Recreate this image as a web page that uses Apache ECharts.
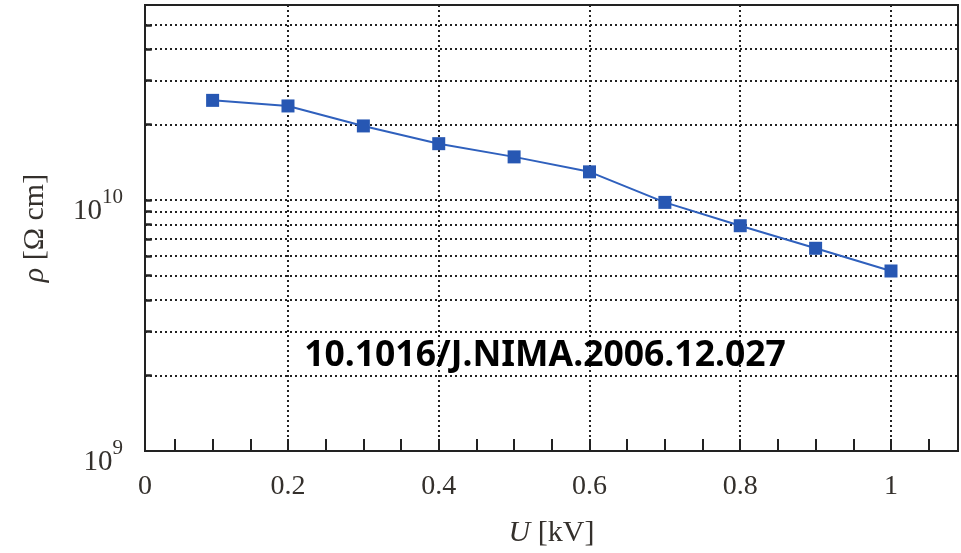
<!DOCTYPE html>
<html>
<head>
<meta charset="utf-8">
<script src="https://cdn.jsdelivr.net/npm/echarts@6/dist/echarts.min.js"></script>
<style>
html,body{margin:0;padding:0;background:#fff;}
#chart{width:961px;height:553px;}
</style>
</head>
<body>
<div id="chart"></div>
<script>
// Data
var voltage = [0.1, 0.2, 0.3, 0.4, 0.5, 0.6, 0.7, 0.8, 0.9, 1.0];          // U [kV]
var resistivity = [2.50e10, 2.375e10, 1.977e10, 1.68e10, 1.488e10, 1.297e10, 9.8e9, 7.91e9, 6.43e9, 5.22e9]; // rho [Ohm cm]
var yGridValues = [2e9, 3e9, 4e9, 5e9, 6e9, 7e9, 8e9, 9e9, 1e10, 2e10, 3e10, 4e10, 5e10];
var xTickLabels = ['0', '0.2', '0.4', '0.6', '0.8', '1'];
var watermark = '10.1016/J.NIMA.2006.12.027';

// axis extents (the frame of the original starts slightly right of U = 0)
var xMin = 0.0103, xMax = 1.0889;
var yMin = 1e9, yMax = 6e10;

var serif = '"Liberation Serif", "Times New Roman", serif';
var labelColor = '#34302c';
var axisColor = '#222';

var seriesData = voltage.map(function (v, i) { return [v, resistivity[i]]; });

var gridLineData = yGridValues.map(function (v) { return { yAxis: v }; });
var yTickData = yGridValues.map(function (v) {
  return [
    { coord: [xMin, v], lineStyle: { type: 'solid', width: 2.5, color: '#222' } },
    { coord: [xMin + 0.009, v] }
  ];
});

var chart = echarts.init(document.getElementById('chart'), null, { renderer: 'canvas' });
chart.setOption({
  animation: false,
  backgroundColor: '#fff',
  grid: {
    left: 145, right: 3, top: 5, bottom: 100,
    show: true, borderColor: axisColor, borderWidth: 2, backgroundColor: 'transparent'
  },
  xAxis: [{
    type: 'value', min: xMin, max: xMax, minInterval: 0.2, maxInterval: 0.2,
    axisLine: { show: true, lineStyle: { color: axisColor, width: 2 } },
    axisTick: { show: false },
    splitLine: { show: true, lineStyle: { color: '#222', width: 2, type: [2, 3] } },
    axisLabel: {
      color: labelColor, fontFamily: serif, fontSize: 28, margin: 22,
      showMinLabel: true, showMaxLabel: false,
      formatter: function (v) {
        var idx = Math.round(v / 0.2);
        if (Math.abs(v - idx * 0.2) > 0.02 || idx >= xTickLabels.length) return '';
        return xTickLabels[idx];
      }
    },
    name: '{i|U} [kV]',
    nameLocation: 'middle',
    nameGap: 67,
    nameTextStyle: {
      color: labelColor, fontFamily: serif, fontSize: 30,
      rich: { i: { fontFamily: serif, fontStyle: 'italic', fontSize: 30, color: labelColor } }
    }
  }, {
    type: 'value', min: xMin, max: xMax, minInterval: 0.05, maxInterval: 0.05,
    position: 'bottom',
    axisLine: { show: false },
    axisTick: { show: true, inside: true, length: 12, lineStyle: { color: axisColor, width: 2 } },
    splitLine: { show: false },
    axisLabel: { show: false }
  }],
  yAxis: {
    type: 'log', logBase: 10, min: yMin, max: yMax,
    axisLine: { show: true, lineStyle: { color: axisColor, width: 2 } },
    axisTick: { show: false },
    splitLine: { show: false },
    axisLabel: {
      color: labelColor, fontFamily: serif, fontSize: 28, margin: 22,
      padding: [12, 0, 0, 0],
      formatter: function (v) {
        var e = Math.log10(v);
        var r = Math.round(e);
        if (Math.abs(e - r) > 1e-6) return '';
        return '{b|10}{s|' + r + '}';
      },
      rich: {
        b: { fontFamily: serif, fontSize: 29, color: labelColor, padding: [10, 0, 0, 0] },
        s: { fontFamily: serif, fontSize: 21, color: labelColor, verticalAlign: 'top' }
      }
    },
    name: '{i|ρ} [Ω cm]',
    nameLocation: 'middle',
    nameGap: 95,
    nameRotate: 90,
    nameTextStyle: {
      color: labelColor, fontFamily: serif, fontSize: 30,
      rich: { i: { fontFamily: serif, fontStyle: 'italic', fontSize: 30, color: labelColor } }
    }
  },
  graphic: [{
    type: 'text', x: 545, y: 356, z: 100,
    style: {
      text: watermark, fill: '#000',
      font: 'bold 35.5px "Noto Sans", "DejaVu Sans", sans-serif',
      textAlign: 'center', textVerticalAlign: 'middle'
    }
  }],
  series: [{
    type: 'line',
    xAxisIndex: 0,
    data: seriesData,
    symbol: 'rect',
    symbolSize: 13,
    itemStyle: { color: '#2757b3' },
    lineStyle: { color: '#2f60bd', width: 2 },
    z: 10,
    markLine: {
      silent: true, symbol: 'none', animation: false,
      label: { show: false },
      lineStyle: { color: '#222', width: 2, type: [2, 3] },
      data: gridLineData.concat(yTickData)
    }
  }]
});
</script>
</body>
</html>
